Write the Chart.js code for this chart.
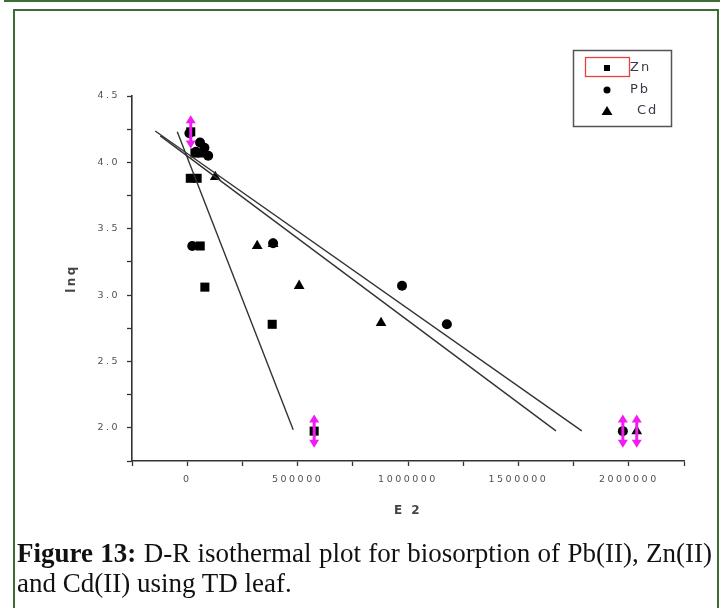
<!DOCTYPE html>
<html>
<head>
<meta charset="utf-8">
<script src="https://cdn.jsdelivr.net/npm/chart.js@4.4.1/dist/chart.umd.min.js"></script>
<style>
  body { margin: 0; background: #fff; }
  #page { position: relative; width: 724px; height: 608px; overflow: hidden; }
  .topline { position: absolute; left: 4px; top: 0; width: 716px; height: 2px; background: #3f6b34; }
  .frame { position: absolute; left: 13px; top: 9px; width: 702px; height: 700px; border: 2px solid #3f6b34; }
  canvas { position: absolute; left: 0; top: 0; }
  .caption { position: absolute; left: 17px; top: 538px; width: 695px; font: 27px/30px "Liberation Serif", serif; color: #111; }
  .caption .l1 { text-align: justify; text-align-last: justify; }
</style>
</head>
<body>
<div id="page">
  <div class="topline"></div>
  <div class="frame"></div>
  <canvas id="drChart" width="724" height="608"></canvas>
  <div class="caption">
    <div class="l1"><b>Figure 13:</b> D-R isothermal plot for biosorption of Pb(II), Zn(II)</div>
    <div>and Cd(II) using TD leaf.</div>
  </div>
</div>
<script>
// measured points (E2, lnq)
const znX = [16000, 14000, 45000, 35000, 59000, 80000, 385000, 575000];
const znY = [4.23, 3.88, 3.88, 4.07, 3.37, 3.06, 2.78, 1.975];

const pbX = [10000, 58000, 78000, 95000, 40000, 23000, 389000, 973000, 1176000, 1973000];
const pbY = [4.22, 4.15, 4.11, 4.05, 4.08, 3.37, 3.39, 3.07, 2.78, 1.975];

const cdX = [70000, 127000, 317000, 389000, 507000, 878000, 2036000];
const cdY = [4.06, 3.89, 3.37, 3.385, 3.07, 2.79, 1.975];

// linear fits (end points)
const fitZnX = [-45000, 480000];
const fitZnY = [4.23, 1.985];
const fitPbX = [-122000, 1670000];
const fitPbY = [4.20, 1.977];
const fitCdX = [-145000, 1787000];
const fitCdY = [4.236, 1.977];

// magenta double arrows
const arrowX = [16000, 575000, 1973000, 2036000];
const arrowY = [4.23, 1.975, 1.975, 1.975];
const arrowHalf = 0.125;

const seriesNames = ['Zn', 'Pb', 'Cd'];

const pts = (xs, ys) => xs.map((x, i) => ({ x: x, y: ys[i] }));

const fitLine = (xs, ys) => ({
  type: 'line',
  data: pts(xs, ys),
  showLine: true,
  borderColor: '#333',
  borderWidth: 1.4,
  pointRadius: 0,
  fill: false
});

const arrows = {
  id: 'arrows',
  afterDatasetsDraw(chart) {
    const ctx = chart.ctx;
    const xs = chart.scales.x, ys = chart.scales.y;
    ctx.save();
    ctx.fillStyle = '#f21cf2';
    ctx.strokeStyle = '#f21cf2';
    ctx.lineWidth = 3;
    arrowX.forEach((v, i) => {
      const px = xs.getPixelForValue(v);
      const top = ys.getPixelForValue(arrowY[i] + arrowHalf);
      const bot = ys.getPixelForValue(arrowY[i] - arrowHalf);
      ctx.beginPath();
      ctx.moveTo(px, top + 5);
      ctx.lineTo(px, bot - 5);
      ctx.stroke();
      ctx.beginPath();
      ctx.moveTo(px, top);
      ctx.lineTo(px - 5, top + 8);
      ctx.lineTo(px + 5, top + 8);
      ctx.closePath();
      ctx.fill();
      ctx.beginPath();
      ctx.moveTo(px, bot);
      ctx.lineTo(px - 5, bot - 8);
      ctx.lineTo(px + 5, bot - 8);
      ctx.closePath();
      ctx.fill();
    });
    ctx.restore();
  }
};

const boxLegend = {
  id: 'boxLegend',
  afterDraw(chart) {
    const ctx = chart.ctx;
    ctx.save();
    ctx.letterSpacing = '2px';
    ctx.strokeStyle = '#555';
    ctx.lineWidth = 1.5;
    ctx.strokeRect(573.5, 50.5, 98, 76);
    ctx.strokeStyle = '#e8403a';
    ctx.lineWidth = 1.3;
    ctx.strokeRect(585.5, 57.5, 44, 19);
    const rows = [68, 90, 111];
    const textX = [630, 630, 637];
    ctx.fillStyle = '#000';
    // square
    ctx.fillRect(604, 65, 6, 6);
    // circle
    ctx.beginPath();
    ctx.arc(607, rows[1], 3.5, 0, Math.PI * 2);
    ctx.fill();
    // triangle
    ctx.beginPath();
    ctx.moveTo(607, rows[2] - 5);
    ctx.lineTo(601.5, rows[2] + 4);
    ctx.lineTo(612.5, rows[2] + 4);
    ctx.closePath();
    ctx.fill();
    ctx.font = '13px "DejaVu Sans"';
    ctx.textBaseline = 'middle';
    ctx.fillStyle = '#3a3a48';
    seriesNames.forEach((n, i) => ctx.fillText(n, textX[i], rows[i]));
    ctx.restore();
  }
};

const spacing = {
  id: 'spacing',
  beforeDraw(chart) { chart.ctx.letterSpacing = '2.5px'; },
  afterDraw(chart) { chart.ctx.letterSpacing = '0px'; }
};

new Chart(document.getElementById('drChart'), {
  type: 'scatter',
  data: {
    datasets: [
      fitLine(fitZnX, fitZnY),
      fitLine(fitPbX, fitPbY),
      fitLine(fitCdX, fitCdY),
      {
        label: seriesNames[0],
        data: pts(znX, znY),
        pointStyle: 'rect',
        pointRadius: 6.4,
        backgroundColor: '#000',
        borderWidth: 0
      },
      {
        label: seriesNames[1],
        data: pts(pbX, pbY),
        pointStyle: 'circle',
        pointRadius: 5,
        backgroundColor: '#000',
        borderWidth: 0
      },
      {
        label: seriesNames[2],
        data: pts(cdX, cdY),
        pointStyle: 'triangle',
        pointRadius: 6.2,
        backgroundColor: '#000',
        borderWidth: 0
      }
    ]
  },
  options: {
    responsive: false,
    animation: false,
    devicePixelRatio: 1,
    layout: { padding: { top: 96, right: 40, bottom: 86, left: 61 } },
    plugins: {
      legend: { display: false },
      tooltip: { enabled: false }
    },
    scales: {
      x: {
        type: 'linear',
        position: 'bottom',
        min: -250000,
        max: 2250000,
        afterFit: (s) => { s.height = 61; },
        ticks: {
          stepSize: 250000,
          autoSkip: false,
          maxRotation: 0,
          padding: 8,
          color: '#505058',
          font: { family: 'DejaVu Sans', size: 9.5 },
          callback: (v) => (v >= 0 && v % 500000 === 0 ? String(v) : '')
        },
        grid: { drawOnChartArea: false, tickLength: 5, color: '#333', tickWidth: 1.3 },
        border: { color: '#333', width: 1.6 },
        title: {
          display: true,
          text: 'E 2',
          color: '#444',
          font: { family: 'DejaVu Sans', size: 12, weight: 'bold' }
        }
      },
      y: {
        min: 1.75,
        max: 4.5,
        afterFit: (s) => { s.width = 71; },
        ticks: {
          stepSize: 0.25,
          autoSkip: false,
          padding: 7,
          color: '#505058',
          font: { family: 'DejaVu Sans', size: 9.5 },
          callback: (v) => (Math.abs(v * 2 - Math.round(v * 2)) < 1e-6 ? v.toFixed(1) : '')
        },
        grid: { drawOnChartArea: false, tickLength: 5, color: '#333', tickWidth: 1.3 },
        border: { color: '#333', width: 1.6 },
        title: {
          display: true,
          text: 'lnq',
          color: '#444',
          font: { family: 'DejaVu Sans', size: 12, weight: 'bold' }
        }
      }
    }
  },
  plugins: [spacing, arrows, boxLegend]
});
</script>
</body>
</html>
